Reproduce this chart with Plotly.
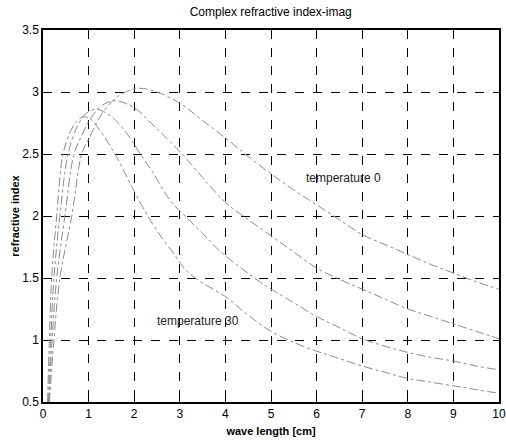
import plotly.graph_objects as go

# temperature 0 (highest, right-most peak)
x_t0 = [0.14, 0.24, 0.37, 0.63, 0.85, 1.0, 1.25, 1.5, 1.75, 2.1, 2.5, 3.0, 3.5, 4.0, 4.5, 5.0, 5.5, 6.0, 6.5, 7.0, 7.5, 8.0, 8.5, 9.0, 9.5, 10]
y_t0 = [0.5, 1.0, 1.5, 2.0, 2.5, 2.62, 2.8, 2.92, 2.99, 3.03, 3.0, 2.91, 2.77, 2.63, 2.48, 2.34, 2.21, 2.09, 1.97, 1.85, 1.77, 1.69, 1.61, 1.54, 1.47, 1.41]

# temperature 10
x_t10 = [0.13, 0.2, 0.3, 0.48, 0.68, 0.85, 1.0, 1.25, 1.55, 1.8, 2.05, 2.45, 3.0, 3.5, 4.0, 4.5, 5.0, 5.5, 6.0, 6.5, 7.0, 7.5, 8.0, 8.5, 9.0, 9.5, 10]
y_t10 = [0.5, 1.0, 1.5, 2.0, 2.5, 2.65, 2.76, 2.88, 2.93, 2.91, 2.86, 2.72, 2.52, 2.31, 2.11, 1.97, 1.84, 1.71, 1.58, 1.49, 1.41, 1.33, 1.25, 1.19, 1.13, 1.07, 1.01]

# temperature 20
x_t20 = [0.12, 0.17, 0.24, 0.37, 0.55, 0.75, 0.95, 1.17, 1.47, 1.83, 2.1, 2.41, 2.78, 3.14, 3.5, 3.84, 4.38, 4.75, 5.0, 5.5, 6.0, 6.5, 7.0, 7.5, 8.0, 8.5, 9.0, 9.5, 10]
y_t20 = [0.5, 1.0, 1.5, 2.0, 2.5, 2.72, 2.83, 2.86, 2.81, 2.67, 2.52, 2.35, 2.13, 1.99, 1.86, 1.73, 1.57, 1.47, 1.41, 1.3, 1.19, 1.1, 1.01, 0.95, 0.9, 0.86, 0.83, 0.79, 0.76]

# temperature 30 (lowest, left-most peak)
x_t30 = [0.1, 0.14, 0.19, 0.3, 0.44, 0.6, 0.75, 0.9, 1.05, 1.25, 1.61, 1.9, 2.19, 2.5, 2.9, 3.14, 3.5, 4.0, 4.5, 5.0, 5.5, 6.0, 6.5, 7.0, 7.5, 8.0, 8.5, 9.0, 9.5, 10]
y_t30 = [0.5, 1.0, 1.5, 2.0, 2.5, 2.68, 2.77, 2.8, 2.78, 2.69, 2.48, 2.27, 2.07, 1.88, 1.68, 1.56, 1.46, 1.35, 1.2, 1.07, 0.98, 0.91, 0.85, 0.79, 0.74, 0.69, 0.66, 0.63, 0.6, 0.57]

x_ticks = [0, 1, 2, 3, 4, 5, 6, 7, 8, 9, 10]
x_ticklabels = ["0", "1", "2", "3", "4", "5", "6", "7", "8", "9", "10"]
y_ticks = [0.5, 1, 1.5, 2, 2.5, 3, 3.5]
y_ticklabels = ["0.5", "1", "1.5", "2", "2.5", "3", "3.5"]

labels = [("temperature 0", 5.73, 2.31), ("temperature 30", 2.45, 1.15)]

FONT = "Liberation Sans, Arial"

fig = go.Figure()
for xs, ys in [(x_t0, y_t0), (x_t10, y_t10), (x_t20, y_t20), (x_t30, y_t30)]:
    fig.add_trace(go.Scatter(x=xs, y=ys, mode="lines",
                             line=dict(color="#8c8c8c", width=1, dash="dashdot", shape="spline"),
                             showlegend=False, hoverinfo="skip"))

for text, lx, ly in labels:
    fig.add_annotation(x=lx, y=ly, text=text, showarrow=False, xanchor="left", yanchor="middle",
                       font=dict(family=FONT, size=12, color="#222"))

axis_common = dict(showgrid=True, gridcolor="black", gridwidth=1, griddash="dash",
                   showline=True, linecolor="black", linewidth=1.5, mirror=True,
                   ticks="inside", ticklen=5, tickcolor="black", zeroline=False,
                   automargin=False, ticklabeloverflow="allow",
                   tickfont=dict(family=FONT, size=12, color="black"))

fig.update_xaxes(range=[0, 10], tickvals=x_ticks, ticktext=x_ticklabels,
                 title=dict(text="<b>wave length [cm]</b>", standoff=7,
                            font=dict(family=FONT, size=11, color="black")),
                 **axis_common)
fig.update_yaxes(range=[0.5, 3.5], tickvals=y_ticks, ticktext=y_ticklabels,
                 title=dict(text="<b>refractive index</b>", standoff=0,
                            font=dict(family=FONT, size=11, color="black")),
                 **axis_common)

fig.update_layout(
    width=506, height=442,
    margin=dict(l=43, r=7, t=30, b=40, autoexpand=False),
    paper_bgcolor="white", plot_bgcolor="white",
    title=dict(text="Complex refractive index-imag", x=0.535, xanchor="center",
               y=0.982, yanchor="top",
               font=dict(family=FONT, size=12, color="black")),
)

fig.write_html("out.html", config={"displayModeBar": False},
               post_script="document.body.style.margin='0';document.body.style.overflow='hidden';")
